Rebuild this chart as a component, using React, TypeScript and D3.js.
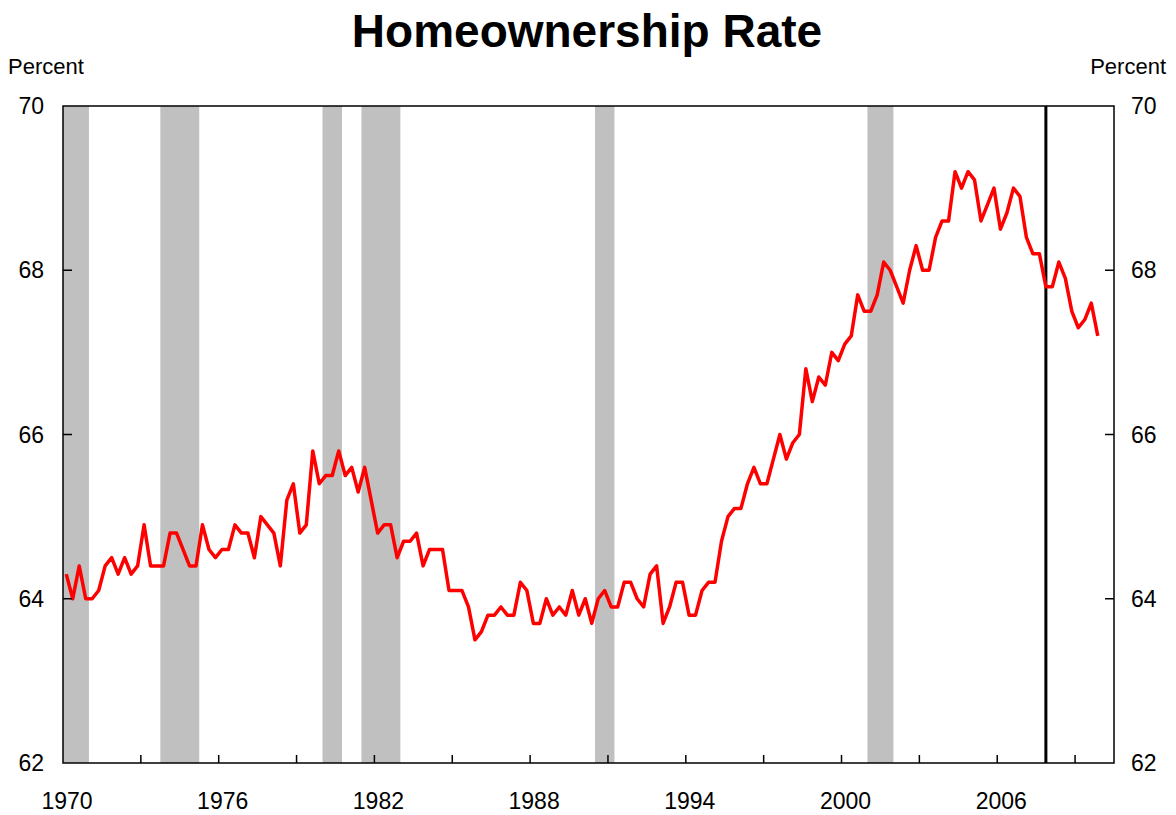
import React from "react";
import * as d3 from "d3";

// Quarterly homeownership rate, 1970Q1 .. 2009Q4 (percent)
const startYear = 1970;
const rate: number[] = [
  64.3, 64.0, 64.4, 64.0,
  64.0, 64.1, 64.4, 64.5,
  64.3, 64.5, 64.3, 64.4,
  64.9, 64.4, 64.4, 64.4,
  64.8, 64.8, 64.6, 64.4,
  64.4, 64.9, 64.6, 64.5,
  64.6, 64.6, 64.9, 64.8,
  64.8, 64.5, 65.0, 64.9,
  64.8, 64.4, 65.2, 65.4,
  64.8, 64.9, 65.8, 65.4,
  65.5, 65.5, 65.8, 65.5,
  65.6, 65.3, 65.6, 65.2,
  64.8, 64.9, 64.9, 64.5,
  64.7, 64.7, 64.8, 64.4,
  64.6, 64.6, 64.6, 64.1,
  64.1, 64.1, 63.9, 63.5,
  63.6, 63.8, 63.8, 63.9,
  63.8, 63.8, 64.2, 64.1,
  63.7, 63.7, 64.0, 63.8,
  63.9, 63.8, 64.1, 63.8,
  64.0, 63.7, 64.0, 64.1,
  63.9, 63.9, 64.2, 64.2,
  64.0, 63.9, 64.3, 64.4,
  63.7, 63.9, 64.2, 64.2,
  63.8, 63.8, 64.1, 64.2,
  64.2, 64.7, 65.0, 65.1,
  65.1, 65.4, 65.6, 65.4,
  65.4, 65.7, 66.0, 65.7,
  65.9, 66.0, 66.8, 66.4,
  66.7, 66.6, 67.0, 66.9,
  67.1, 67.2, 67.7, 67.5,
  67.5, 67.7, 68.1, 68.0,
  67.8, 67.6, 68.0, 68.3,
  68.0, 68.0, 68.4, 68.6,
  68.6, 69.2, 69.0, 69.2,
  69.1, 68.6, 68.8, 69.0,
  68.5, 68.7, 69.0, 68.9,
  68.4, 68.2, 68.2, 67.8,
  67.8, 68.1, 67.9, 67.5,
  67.3, 67.4, 67.6, 67.2,
];

// Recession periods (fractional years, quarter boundaries)
const recessionStart: number[] = [1969.75, 1973.75, 1980.0, 1981.5, 1990.5, 2001.0];
const recessionEnd: number[] = [1971.0, 1975.25, 1980.75, 1983.0, 1991.25, 2002.0];

const markerYear = 2007.875;

const xTickYears: number[] = [1973, 1976, 1979, 1982, 1985, 1988, 1991, 1994, 1997, 2000, 2003, 2006, 2009];
const xLabelYears: number[] = [1970, 1976, 1982, 1988, 1994, 2000, 2006];
const yTicks: number[] = [62, 64, 66, 68, 70];
const yInnerTicks: number[] = [64, 66, 68];

const W = 1176;
const H = 815;
const left = 63;
const right = 1114;
const top = 106;
const bottom = 763;

export default function App() {
  const x = d3.scaleLinear().domain([1970, 2010.5]).range([left, right]);
  const y = d3.scaleLinear().domain([62, 70]).range([bottom, top]);

  const pts = rate.map((v, i) => ({ t: startYear + i / 4 + 0.125, v }));
  const line = d3
    .line<{ t: number; v: number }>()
    .x((d) => x(d.t))
    .y((d) => y(d.v));

  const font = "'Liberation Sans', Arial, Helvetica, sans-serif";

  return (
    <svg
      width={W}
      height={H}
      style={{ position: "absolute", left: 0, top: 0, background: "#fff" }}
      fontFamily={font}
    >
      <rect x={0} y={0} width={W} height={H} fill="#fff" />
      <text x={587} y={47} textAnchor="middle" fontSize={46} fontWeight="bold" fill="#000">
        Homeownership Rate
      </text>
      <text x={8} y={74} fontSize={22} fill="#000">Percent</text>
      <text x={1166} y={74} fontSize={22} fill="#000" textAnchor="end">Percent</text>

      {recessionStart.map((s, i) => {
        const x0 = x(Math.max(s, 1970));
        const x1 = x(recessionEnd[i]);
        return <rect key={i} x={x0} y={top} width={x1 - x0} height={bottom - top} fill="#C0C0C0" />;
      })}

      <line x1={x(markerYear)} x2={x(markerYear)} y1={top} y2={bottom} stroke="#000" strokeWidth={3} />

      <path d={line(pts) || ""} fill="none" stroke="#FF0000" strokeWidth={3.5} strokeLinejoin="round" />

      {/* frame */}
      <rect x={left} y={top} width={right - left} height={bottom - top} fill="none" stroke="#000" strokeWidth={1.5} />

      {yInnerTicks.map((v) => (
        <g key={v}>
          <line x1={left} x2={left + 9} y1={y(v)} y2={y(v)} stroke="#000" strokeWidth={1.5} />
          <line x1={right - 9} x2={right} y1={y(v)} y2={y(v)} stroke="#000" strokeWidth={1.5} />
        </g>
      ))}
      {yTicks.map((v) => (
        <g key={"l" + v}>
          <text x={44} y={y(v) + 8} fontSize={23} textAnchor="end" fill="#000">{v}</text>
          <text x={1131} y={y(v) + 8} fontSize={23} textAnchor="start" fill="#000">{v}</text>
        </g>
      ))}

      {xTickYears.map((t) => (
        <line key={t} x1={x(t)} x2={x(t)} y1={bottom} y2={bottom - 8} stroke="#000" strokeWidth={1.5} />
      ))}
      {xLabelYears.map((t) => (
        <text key={t} x={x(t) + 4} y={809} fontSize={23} textAnchor="middle" fill="#000">{t}</text>
      ))}
    </svg>
  );
}
